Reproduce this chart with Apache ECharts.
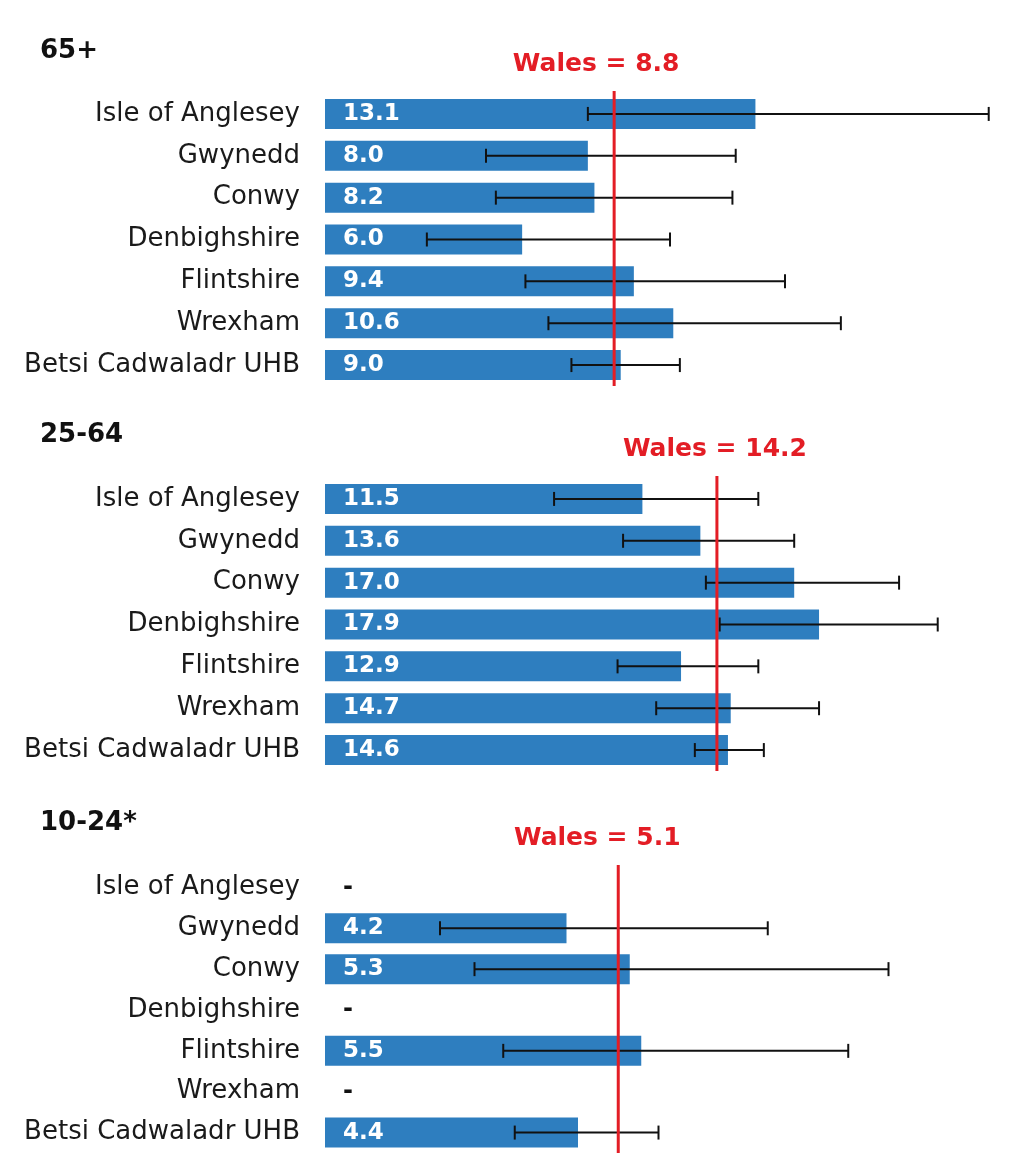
<!DOCTYPE html>
<html>
<head>
<meta charset="utf-8">
<script src="https://cdn.jsdelivr.net/npm/echarts@6/dist/echarts.min.js"></script>
<style>
html, body { margin: 0; background: #fff; }
#main { width: 1025px; height: 1153px; }
</style>
</head>
<body>
<div id="main"></div>
<script>
// categories
const areas = ['Isle of Anglesey', 'Gwynedd', 'Conwy', 'Denbighshire', 'Flintshire', 'Wrexham', 'Betsi Cadwaladr UHB']
const groups = ['65+', '25-64', '10-24*']
const walesRates = [8.8, 14.2, 5.1]

// 65+
const rate65 = [13.1, 8.0, 8.2, 6.0, 9.4, 10.6, 9.0]
const low65 = [8.0, 4.9, 5.2, 3.1, 6.1, 6.8, 7.5]
const high65 = [20.2, 12.5, 12.4, 10.5, 14.0, 15.7, 10.8]
// 25-64
const rate25 = [11.5, 13.6, 17.0, 17.9, 12.9, 14.7, 14.6]
const low25 = [8.3, 10.8, 13.8, 14.3, 10.6, 12.0, 13.4]
const high25 = [15.7, 17.0, 20.8, 22.2, 15.7, 17.9, 15.9]
// 10-24 (null = not shown, '-')
const rate10 = [null, 4.2, 5.3, null, 5.5, null, 4.4]
const low10 = [null, 2.0, 2.6, null, 3.1, null, 3.3]
const high10 = [null, 7.7, 9.8, null, 9.1, null, 5.8]

const rates = [rate65, rate25, rate10]
const lows = [low65, low25, low10]
const highs = [high65, high25, high10]

// layout
const axisMax = [21, 25, 12]
const gridTops = [93, 478, 867]
const titleTops = [33, 417, 805]
const walesShift = [-18, -2, -21]
const FONT = 'DejaVu Sans'
const BAR = '#2e7ebf'
const RED = '#e31d25'

let chart = echarts.init(document.getElementById('main'))

// error bar, or a dash where there is no value
function renderError(params, api) {
  let i = api.value(0)
  let y = api.coord([0, i])[1]
  if (!api.value(3)) {
    let x0 = api.coord([0, i])[0]
    return {
      type: 'text',
      style: { x: x0 + 18, y: y, text: '-', fill: '#111', font: 'bold 24px "DejaVu Sans"', verticalAlign: 'middle' }
    }
  }
  let xl = api.coord([api.value(1), i])[0]
  let xh = api.coord([api.value(2), i])[0]
  let s = { stroke: '#111', lineWidth: 2 }
  return {
    type: 'group',
    children: [
      { type: 'line', shape: { x1: xl, y1: y, x2: xh, y2: y }, style: s },
      { type: 'line', shape: { x1: xl, y1: y - 7, x2: xl, y2: y + 7 }, style: s },
      { type: 'line', shape: { x1: xh, y1: y - 7, x2: xh, y2: y + 7 }, style: s }
    ]
  }
}

function makeWales(k) {
  return function (params, api) {
    let cs = params.coordSys
    let x = api.coord([api.value(0), 0])[0]
    return {
      type: 'group',
      children: [
        { type: 'line', shape: { x1: x, y1: cs.y - 2, x2: x, y2: cs.y + cs.height }, style: { stroke: RED, lineWidth: 3 } },
        {
          type: 'text',
          style: {
            x: x + walesShift[k], y: cs.y - 29, text: 'Wales = ' + api.value(0).toFixed(1),
            fill: RED, font: 'bold 25px "DejaVu Sans"', align: 'center', verticalAlign: 'middle'
          }
        }
      ]
    }
  }
}

let grids = [], xAxes = [], yAxes = [], titles = [], series = []
for (let k = 0; k < 3; k++) {
  grids.push({ left: 325, width: 690, top: gridTops[k], height: 293 })
  xAxes.push({ type: 'value', gridIndex: k, min: 0, max: axisMax[k], show: false })
  yAxes.push({
    type: 'category', gridIndex: k, inverse: true, data: areas,
    axisLine: { show: false }, axisTick: { show: false },
    axisLabel: { fontSize: 26, color: '#1a1a1a', margin: 25, fontFamily: FONT }
  })
  titles.push({
    text: groups[k], left: 35, top: titleTops[k],
    textStyle: { fontSize: 26, fontWeight: 'bold', color: '#111', fontFamily: FONT }
  })
  series.push({
    type: 'bar', xAxisIndex: k, yAxisIndex: k, data: rates[k], barWidth: 30,
    itemStyle: { color: BAR },
    label: {
      show: true, position: 'insideLeft', distance: 18, color: '#fff',
      fontSize: 23, fontWeight: 'bold', fontFamily: FONT,
      formatter: p => p.value.toFixed(1)
    }
  })
  let errData = rates[k].map((v, i) => [i, v == null ? 0 : lows[k][i], v == null ? 0 : highs[k][i], v == null ? 0 : 1])
  series.push({
    type: 'custom', xAxisIndex: k, yAxisIndex: k, data: errData, z: 3,
    encode: { x: [1, 2], y: 0 }, renderItem: renderError
  })
  series.push({
    type: 'custom', xAxisIndex: k, yAxisIndex: k, data: [[walesRates[k]]], z: 4,
    encode: { x: 0 }, renderItem: makeWales(k)
  })
}

chart.setOption({
  animation: false,
  title: titles,
  grid: grids,
  xAxis: xAxes,
  yAxis: yAxes,
  series: series
})
</script>
</body>
</html>
